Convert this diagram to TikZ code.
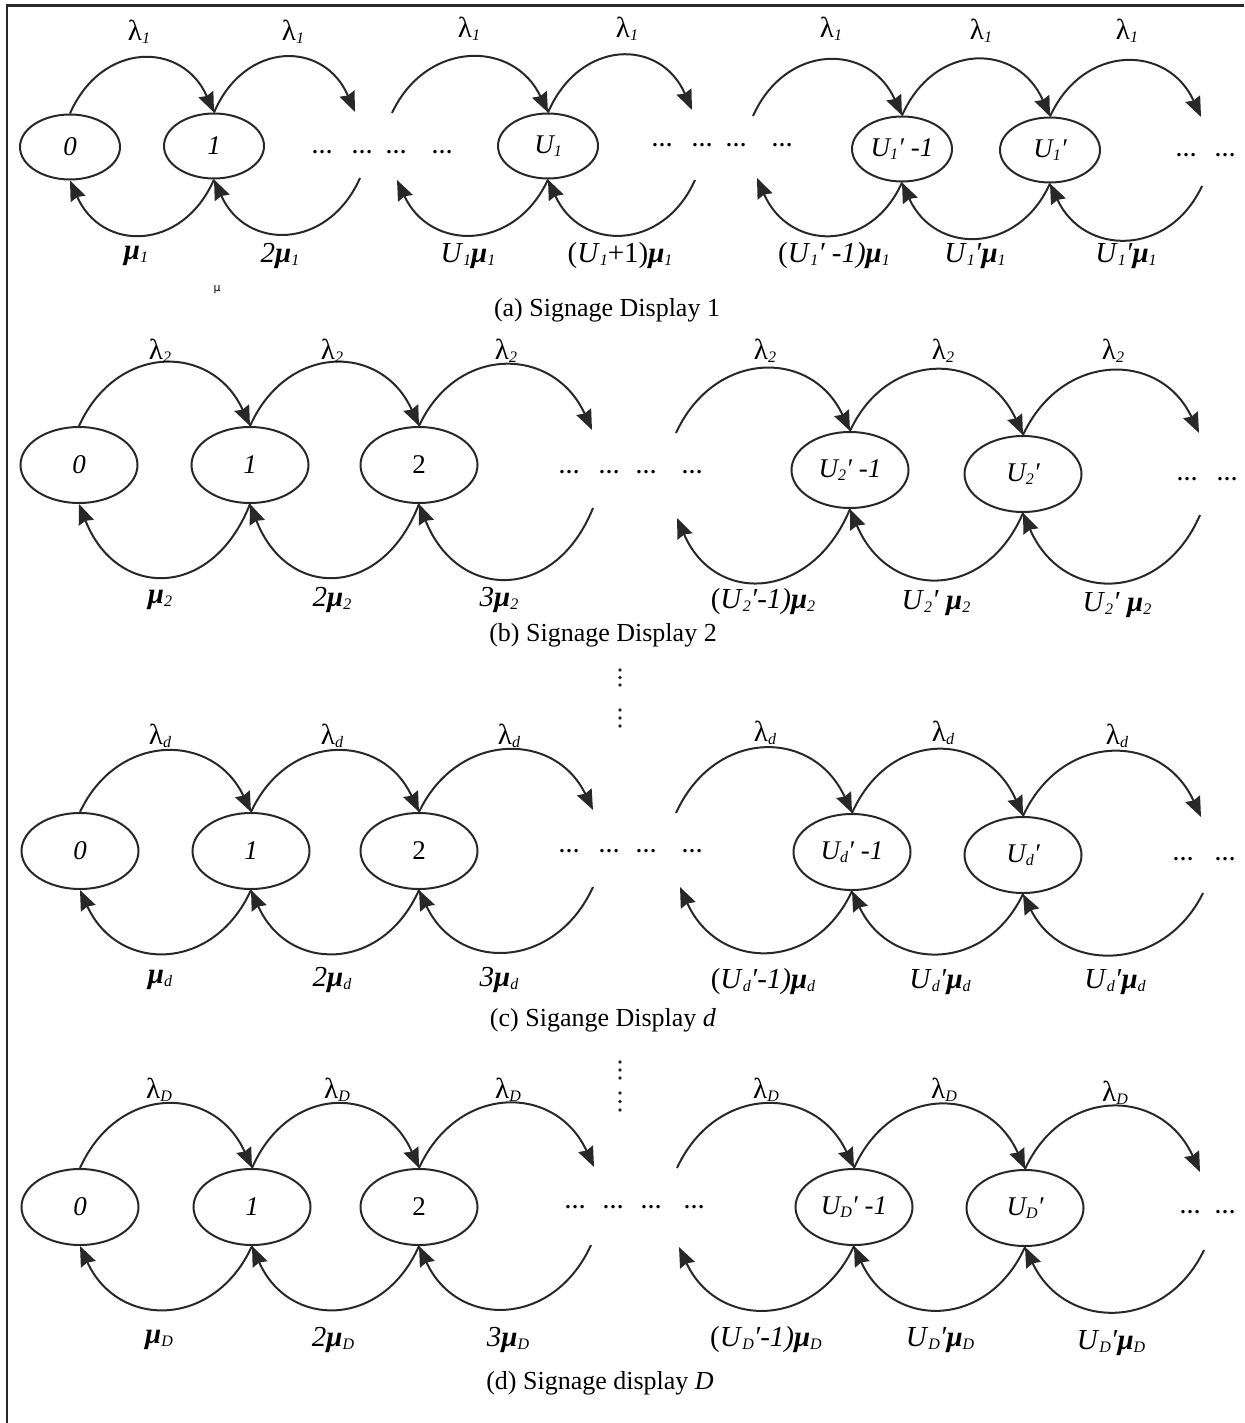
\documentclass[tikz,border=0pt]{standalone}
\usepackage{fontspec}
\setmainfont{Liberation Serif}
\newfontfamily\dejavu{DejaVu Sans}
\usetikzlibrary{shapes.geometric,arrows.meta,calc}
\definecolor{lc}{RGB}{40,40,40}
\newcommand\sbx[1]{\raisebox{-0.2ex}{\fontsize{16}{16}\selectfont\itshape #1}}
\newcommand\lam[1]{{\upshape λ}\sbx{#1}}
\newcommand\muu[1]{{\bfseries\itshape μ}\sbx{#1}}
\newcommand\toparc[3]{\draw[arc] (#1) .. controls ($(#1)!0.22!(#2)+(0,-#3)$) and ($(#2)!0.22!(#1)+(0,-#3)$) .. (#2);}
\newcommand\botarc[3]{\draw[arc] (#1) .. controls ($(#1)!0.22!(#2)+(0,#3)$) and ($(#2)!0.22!(#1)+(0,#3)$) .. (#2);}
\tikzset{
  sa/.style={draw=lc, line width=2pt, ellipse, minimum width=100pt, minimum height=65pt, inner sep=0pt, font=\fontsize{27}{27}\selectfont\itshape},
  sb/.style={sa, minimum width=117pt, minimum height=76pt},
  arc/.style={draw=lc, line width=2pt, -{Stealth[length=20pt,width=16pt,inset=2pt]}},
  lab/.style={inner sep=0pt, font=\fontsize{29}{32}\selectfont},
  laml/.style={lab, yshift=4pt},
  captxt/.style={inner sep=0pt, font=\fontsize{26}{30}\selectfont},
  dotsn/.style={inner sep=0pt, font=\fontsize{21}{21}\selectfont\bfseries},
}
\newcommand\hd[3]{\node[dotsn] (#1) at (#2,#3) {…};}
\begin{document}
\begin{tikzpicture}[x=1pt,y=-1pt]
\useasboundingbox (0,0) rectangle (1244,1423);
\fill[white] (0,0) rectangle (1244,1423);
\draw[lc, line width=2.5pt] (7,1423) -- (7,5.5) -- (1244,5.5);

% ---------- Row (a)
\node[sa] (a0) at (70,147) {0};
\node[sa] (a1) at (214,146) {1};
\node[sa] (aU) at (548,146) {U\sbx{1}};
\node[sa] (aUm) at (902,149) {U\sbx{1}′ -1};
\node[sa] (aUp) at (1050,150) {U\sbx{1}′};
\coordinate (af1) at (355,112);
\coordinate (af2) at (360,178);
\coordinate (af3) at (392,113);
\coordinate (af4) at (397,180);
\coordinate (af5) at (692,110);
\coordinate (af6) at (695,180);
\coordinate (af7) at (753,116);
\coordinate (af8) at (757,178);
\coordinate (af9) at (1201,117);
\coordinate (af10) at (1202,186);
\toparc{a0.north}{a1.north}{72}
\toparc{a1.north}{af1}{72}
\toparc{af3}{aU.north}{73}
\toparc{aU.north}{af5}{73}
\toparc{af7}{aUm.north}{73}
\toparc{aUm.north}{aUp.north}{74}
\toparc{aUp.north}{af9}{73}
\botarc{a1.south}{a0.south}{72}
\botarc{af2}{a1.south}{72}
\botarc{aU.south}{af4}{72}
\botarc{af6}{aU.south}{72}
\botarc{aUm.south}{af8}{72}
\botarc{aUp.south}{aUm.south}{72}
\botarc{af10}{aUp.south}{72}
\hd{ad1}{322}{152}\hd{ad2}{362}{152}\hd{ad3}{396}{152}\hd{ad4}{442}{152}
\hd{ad5}{662}{145}\hd{ad6}{702}{145}\hd{ad7}{736}{145}\hd{ad8}{782}{145}
\hd{ad9}{1186}{155}\hd{ad10}{1225}{155}
\node[laml] (la1) at (139,36) {\lam{1}};
\node[laml] (la2) at (293,36) {\lam{1}};
\node[laml] (la3) at (469,33) {\lam{1}};
\node[laml] (la4) at (627,33) {\lam{1}};
\node[laml] (la5) at (831,33) {\lam{1}};
\node[laml] (la6) at (981,35) {\lam{1}};
\node[laml] (la7) at (1127,35) {\lam{1}};
\node[lab] (ma1) at (136,256) {\muu{1}};
\node[lab] (ma2) at (280,256) {\textit{2}\muu{1}};
\node[lab] (ma3) at (468,256) {\textit{U}\sbx{1}\muu{1}};
\node[lab] (ma4) at (620,256) {(\textit{U}\sbx{1}+1)\muu{1}};
\node[lab] (ma5) at (834,256) {(\textit{U}\sbx{1}\textit{′ -1)}\muu{1}};
\node[lab] (ma6) at (975,256) {\textit{U}\sbx{1}\textit{′}\muu{1}};
\node[lab] (ma7) at (1126,256) {\textit{U}\sbx{1}\textit{′}\muu{1}};
\node[inner sep=0pt, font=\dejavu\fontsize{11}{11}\selectfont] (tmu) at (217,290) {μ};
\node[captxt] (capa) at (607,310) {(a) Signage Display 1};

% ---------- Row (b)
\node[sb] (b0) at (79,465) {0};
\node[sb] (b1) at (250,465) {1};
\node[sb] (b2) at (419,465) {\upshape 2};
\node[sb] (bUm) at (850,470) {U\sbx{2}′ -1};
\node[sb] (bUp) at (1023,474) {U\sbx{2}′};
\coordinate (bf1) at (592,430);
\coordinate (bf2) at (593,508);
\coordinate (bf3) at (676,433);
\coordinate (bf4) at (677,518);
\coordinate (bf5) at (1199,433);
\coordinate (bf6) at (1200,515);
\toparc{b0.north}{b1.north}{83}
\toparc{b1.north}{b2.north}{83}
\toparc{b2.north}{bf1}{83}
\toparc{bf3}{bUm.north}{83}
\toparc{bUm.north}{bUp.north}{83}
\toparc{bUp.north}{bf5}{83}
\botarc{b1.south}{b0.south}{96}
\botarc{b2.south}{b1.south}{96}
\botarc{bf2}{b2.south}{96}
\botarc{bUm.south}{bf4}{90}
\botarc{bUp.south}{bUm.south}{90}
\botarc{bf6}{bUp.south}{90}
\hd{bd1}{569}{472}\hd{bd2}{609}{472}\hd{bd3}{646}{472}\hd{bd4}{692}{472}
\hd{bd5}{1187}{479}\hd{bd6}{1227}{479}
\node[laml] (lb1) at (160,355) {\lam{2}};
\node[laml] (lb2) at (332,355) {\lam{2}};
\node[laml] (lb3) at (506,355) {\lam{2}};
\node[laml] (lb4) at (765,355) {\lam{2}};
\node[laml] (lb5) at (943,355) {\lam{2}};
\node[laml] (lb6) at (1113,355) {\lam{2}};
\node[lab] (mb1) at (160,600) {\muu{2}};
\node[lab] (mb2) at (332,600) {\textit{2}\muu{2}};
\node[lab] (mb3) at (499,600) {\textit{3}\muu{2}};
\node[lab] (mb4) at (763,602) {(\textit{U}\sbx{2}\textit{′-1)}\muu{2}};
\node[lab] (mb5) at (936,603) {\textit{U}\sbx{2}\textit{′ }\muu{2}};
\node[lab] (mb6) at (1117,605) {\textit{U}\sbx{2}\textit{′ }\muu{2}};
\node[captxt] (capb) at (603,635) {(b) Signage Display 2};

% vertical dots
\foreach \yy in {670,677.5,685,710,718,726,1062,1070,1078,1093,1101.5,1110}
  \fill[lc] (620,\yy) circle (1.8);

% ---------- Row (c)
\node[sb] (c0) at (80,851) {0};
\node[sb] (c1) at (251,851) {1};
\node[sb] (c2) at (419,851) {\upshape 2};
\node[sb] (cUm) at (852,852) {U\sbx{d}′ -1};
\node[sb] (cUp) at (1023,855) {U\sbx{d}′};
\coordinate (cf1) at (593,810);
\coordinate (cf2) at (593,887);
\coordinate (cf3) at (676,813);
\coordinate (cf4) at (680,887);
\coordinate (cf5) at (1201,817);
\coordinate (cf6) at (1203,893);
\toparc{c0.north}{c1.north}{80}
\toparc{c1.north}{c2.north}{80}
\toparc{c2.north}{cf1}{80}
\toparc{cf3}{cUm.north}{85}
\toparc{cUm.north}{cUp.north}{85}
\toparc{cUp.north}{cf5}{85}
\botarc{c1.south}{c0.south}{83}
\botarc{c2.south}{c1.south}{83}
\botarc{cf2}{c2.south}{83}
\botarc{cUm.south}{cf4}{83}
\botarc{cUp.south}{cUm.south}{80}
\botarc{cf6}{cUp.south}{80}
\hd{cd1}{569}{851}\hd{cd2}{609}{851}\hd{cd3}{646}{851}\hd{cd4}{692}{851}
\hd{cd5}{1183}{859}\hd{cd6}{1225}{859}
\node[laml] (lc1) at (160,740) {\lam{d}};
\node[laml] (lc2) at (332,740) {\lam{d}};
\node[laml] (lc3) at (509,740) {\lam{d}};
\node[laml] (lc4) at (765,737) {\lam{d}};
\node[laml] (lc5) at (943,737) {\lam{d}};
\node[laml] (lc6) at (1117,740) {\lam{d}};
\node[lab] (mc1) at (160,980) {\muu{d}};
\node[lab] (mc2) at (332,980) {\textit{2}\muu{d}};
\node[lab] (mc3) at (499,980) {\textit{3}\muu{d}};
\node[lab] (mc4) at (763,982) {(\textit{U}\sbx{d}\textit{′-1)}\muu{d}};
\node[lab] (mc5) at (940,982) {\textit{U}\sbx{d}\textit{′}\muu{d}};
\node[lab] (mc6) at (1115,982) {\textit{U}\sbx{d}\textit{′}\muu{d}};
\node[captxt] (capc) at (603,1020) {(c) Sigange Display \textit{d}};

% ---------- Row (d)
\node[sb] (d0) at (80,1207) {0};
\node[sb] (d1) at (252,1207) {1};
\node[sb] (d2) at (419,1207) {\upshape 2};
\node[sb] (dUm) at (854,1207) {U\sbx{D}′ -1};
\node[sb] (dUp) at (1025,1208) {U\sbx{D}′};
\coordinate (df1) at (594,1167);
\coordinate (df2) at (591,1245);
\coordinate (df3) at (677,1168);
\coordinate (df4) at (679,1247);
\coordinate (df5) at (1200,1172);
\coordinate (df6) at (1204,1250);
\toparc{d0.north}{d1.north}{84}
\toparc{d1.north}{d2.north}{84}
\toparc{d2.north}{df1}{84}
\toparc{df3}{dUm.north}{84}
\toparc{dUm.north}{dUp.north}{84}
\toparc{dUp.north}{df5}{84}
\botarc{d1.south}{d0.south}{83}
\botarc{d2.south}{d1.south}{83}
\botarc{df2}{d2.south}{83}
\botarc{dUm.south}{df4}{83}
\botarc{dUp.south}{dUm.south}{83}
\botarc{df6}{dUp.south}{83}
\hd{dd1}{575}{1207}\hd{dd2}{613}{1207}\hd{dd3}{651}{1207}\hd{dd4}{694}{1207}
\hd{dd5}{1190}{1212}\hd{dd6}{1225}{1212}
\node[laml] (ld1) at (159,1094) {\lam{D}};
\node[laml] (ld2) at (337,1094) {\lam{D}};
\node[laml] (ld3) at (508,1094) {\lam{D}};
\node[laml] (ld4) at (766,1094) {\lam{D}};
\node[laml] (ld5) at (944,1094) {\lam{D}};
\node[laml] (ld6) at (1115,1097) {\lam{D}};
\node[lab] (md1) at (159,1340) {\muu{D}};
\node[lab] (md2) at (333,1340) {\textit{2}\muu{D}};
\node[lab] (md3) at (508,1340) {\textit{3}\muu{D}};
\node[lab] (md4) at (766,1340) {(\textit{U}\sbx{D}\textit{′-1)}\muu{D}};
\node[lab] (md5) at (940,1340) {\textit{U}\sbx{D}\textit{′}\muu{D}};
\node[lab] (md6) at (1111,1343) {\textit{U}\sbx{D}\textit{′}\muu{D}};
\node[captxt] (capd) at (600,1383) {(d) Signage display \textit{D}};
\end{tikzpicture}
\end{document}
